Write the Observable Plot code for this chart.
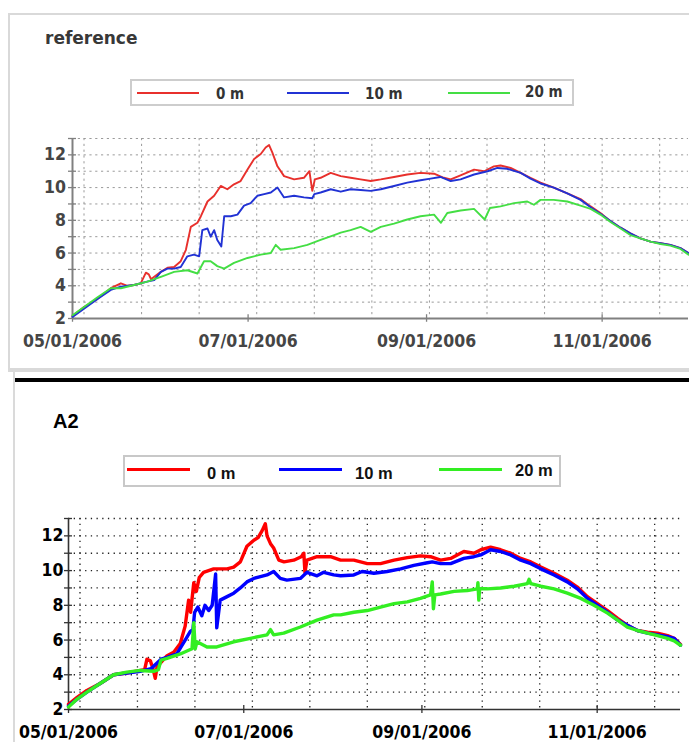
<!DOCTYPE html>
<html><head><meta charset="utf-8">
<script src="https://cdn.jsdelivr.net/npm/d3@7"></script>
<script src="https://cdn.jsdelivr.net/npm/@observablehq/plot@0.6"></script>
<style>
html,body{margin:0;padding:0;background:#fff;}
#page{position:relative;width:689px;height:742px;overflow:hidden;background:#fff;}
.abs{position:absolute;}
</style></head><body>
<div id="page"></div>
<script>
// ---------- data (days since 2006-05-01, temperature) ----------
const seriesNames = ["0 m", "10 m", "20 m"];
const yLabelValues = [2, 4, 6, 8, 10, 12];
const yTickValues = [2, 3, 4, 5, 6, 7, 8, 9, 10, 11, 12, 13];
const yGridValues = [3, 4, 5, 6, 7, 8, 9, 10, 11, 12, 13];
const xTickDates = ["2006-05-01", "2006-07-01", "2006-09-01", "2006-11-01"];
const gridDates = ["2006-05-05","2006-05-25","2006-06-14","2006-07-04","2006-07-24","2006-08-13","2006-09-02","2006-09-22","2006-10-12","2006-11-01","2006-11-21"];

// top panel: "reference"
const ref0m = [[0,2.15],[4,2.7],[8.7,3.2],[13.3,3.85],[16.8,4.15],[19.1,4.0],[21.4,4.05],[23.7,4.15],[25.5,4.8],[26.5,4.7],[27.3,4.4],[28.4,4.55],[30.7,4.85],[33,5.1],[35.3,5.15],[37.6,5.5],[39.4,6.2],[41.1,7.6],[43.4,7.85],[44.6,8.25],[46.9,9.15],[49.2,9.5],[51.5,10.1],[53.8,9.9],[56.1,10.2],[58.4,10.4],[60.8,11.1],[63.1,11.75],[65.4,12.05],[67.1,12.45],[68.3,12.6],[69.4,12.15],[71.2,11.3],[73.5,10.7],[77,10.5],[80.4,10.6],[82.3,11.0],[83.3,9.8],[84.2,10.5],[86.2,10.6],[89.7,10.9],[93.2,10.7],[96.6,10.6],[100.1,10.5],[103.6,10.4],[107.1,10.5],[111.7,10.65],[116.3,10.8],[120.9,10.9],[125.6,10.85],[129,10.6],[131.4,10.5],[134.8,10.75],[139.5,11.1],[143,11.0],[146.4,11.3],[148.7,11.35],[152.2,11.2],[155.7,10.9],[159.1,10.6],[162.6,10.3],[167.2,10.0],[171.9,9.65],[176.5,9.3],[180,8.85],[183.4,8.45],[186.9,7.95],[190.4,7.55],[193.8,7.2],[197.3,6.9],[200.8,6.7],[204.3,6.6],[207.7,6.5],[211.2,6.3],[214,6.0]];
const ref10m = [[0,2.1],[4,2.6],[8.7,3.2],[13.3,3.75],[16.8,3.95],[21.4,4.05],[25.9,4.25],[28.4,4.35],[30.7,4.85],[33,5.05],[35.3,5.05],[37.6,5.15],[39.9,5.8],[42.2,5.9],[44,5.8],[45.1,7.4],[46.9,7.5],[48,7.0],[49.2,7.4],[50.3,6.8],[51.7,6.4],[52.7,8.25],[55,8.25],[57.3,8.35],[59.6,8.9],[61.9,9.05],[64.2,9.5],[66.6,9.6],[68.9,9.7],[71.2,10.0],[73.5,9.4],[77,9.5],[80.4,9.4],[83.3,9.35],[84,9.6],[86.2,9.7],[89.7,9.9],[93.2,9.75],[96.6,9.9],[100.1,9.85],[103.6,9.8],[107.1,9.9],[111.7,10.1],[116.3,10.3],[120.9,10.45],[124.4,10.55],[127.8,10.65],[131.4,10.4],[134.8,10.5],[139.5,10.8],[144.2,11.0],[147.6,11.2],[151,11.15],[155.7,10.9],[159.1,10.55],[162.6,10.25],[167.2,10.0],[171.9,9.65],[176.5,9.25],[180,8.8],[183.4,8.4],[186.9,7.95],[190.4,7.55],[193.8,7.2],[197.3,6.9],[200.8,6.7],[204.3,6.6],[207.7,6.5],[211.2,6.3],[214,6.0]];
const ref20m = [[0,2.2],[4,2.7],[8.7,3.3],[13.3,3.85],[16.8,3.85],[21.4,4.05],[26,4.25],[30.7,4.55],[35.3,4.85],[39.9,4.95],[43.4,4.75],[45.7,5.5],[48,5.5],[50.3,5.2],[52.7,5.05],[56.1,5.4],[60.8,5.7],[65.4,5.9],[68.9,6.0],[70.6,6.5],[72.3,6.2],[77,6.3],[81.6,6.5],[86.2,6.8],[90.9,7.1],[93.2,7.25],[96.6,7.4],[100.1,7.6],[103.6,7.3],[107.1,7.6],[111.7,7.8],[116.3,8.05],[120.9,8.25],[125.6,8.35],[128,7.85],[130.2,8.45],[134.8,8.6],[139.5,8.7],[143.2,8.05],[145,8.75],[148.7,8.85],[153.4,9.05],[158,9.15],[160.3,8.95],[162.6,9.25],[167.2,9.25],[171.9,9.15],[176.5,8.9],[180,8.7],[183.4,8.35],[186.9,7.9],[190.4,7.5],[193.8,7.1],[197.3,6.9],[200.8,6.7],[204.3,6.55],[207.7,6.45],[211.2,6.25],[214,5.9]];

// bottom panel: "A2"
const a2_0m = [[0,2.3],[3,2.7],[6.4,3.1],[11,3.5],[15.7,4.0],[20.3,4.1],[25,4.25],[26.5,4.3],[27.3,4.9],[28.5,4.8],[29.5,4.3],[30.2,3.8],[30.8,4.45],[34.3,5.1],[36.6,5.3],[38.9,5.8],[40.6,6.8],[41.8,8.3],[42.5,7.6],[43.6,9.3],[44.5,8.8],[45.5,9.6],[47,9.9],[50.5,10.1],[55.2,10.1],[57.5,10.2],[59.8,10.5],[62.1,11.4],[64.5,11.75],[66,11.9],[67.4,12.3],[68.5,12.7],[69.1,12.0],[70.3,11.55],[71.4,11.3],[73.2,10.6],[75,10.5],[78.4,10.6],[81,10.8],[81.9,11.0],[82.3,9.9],[83,10.6],[86.5,10.8],[91.2,10.8],[94.7,10.6],[99.3,10.6],[104,10.4],[108.6,10.4],[113.3,10.6],[117.9,10.75],[122.5,10.85],[126,10.8],[129.5,10.6],[133,10.7],[137.6,11.1],[141.1,11.0],[143.5,11.2],[146.9,11.35],[150.4,11.2],[153.9,11.0],[157.4,10.7],[160.9,10.5],[164.4,10.2],[169,9.85],[173.6,9.45],[177.1,9.05],[180.6,8.5],[184.1,8.1],[187.6,7.7],[191.1,7.25],[194.5,6.85],[198,6.55],[201.5,6.45],[205,6.4],[208.5,6.25],[210.8,6.1],[213,5.75]];
const a2_10m = [[0,2.2],[3,2.6],[6.4,3.0],[11,3.5],[15.7,4.0],[20.3,4.1],[25,4.2],[28.7,4.35],[32.2,4.9],[34.3,5.0],[37.7,5.2],[40.6,6.0],[42.4,6.5],[43.3,6.6],[43.9,7.6],[45,7.9],[46.4,7.4],[47.5,8.0],[48.8,7.7],[50,8.0],[51.2,9.8],[51.6,6.7],[52.8,8.3],[55.2,8.5],[57.5,8.7],[59.8,9.0],[62.1,9.35],[64.5,9.55],[66.8,9.65],[69.1,9.75],[71.4,9.95],[73.7,9.55],[76,9.45],[80.7,9.55],[83,9.9],[86.5,9.7],[88.8,9.9],[92.3,9.75],[94.7,9.7],[99.3,9.75],[102.2,9.95],[106.3,9.85],[110.9,9.95],[115.6,10.1],[120.2,10.3],[124.9,10.45],[126.6,10.5],[129.5,10.4],[133,10.4],[137.6,10.7],[141.1,10.8],[143.5,10.9],[146.9,11.2],[150.4,11.1],[153.9,10.9],[157.4,10.6],[160.9,10.4],[164.4,10.1],[169,9.75],[173.6,9.35],[177.1,8.95],[180.6,8.4],[184.1,8.0],[187.6,7.6],[191.1,7.15],[194.5,6.85],[198,6.55],[201.5,6.4],[205,6.3],[208.5,6.2],[210.8,6.1],[213,5.7]];
const a2_20m = [[0,2.15],[3,2.6],[6.4,3.0],[11,3.5],[15.7,4.0],[20.3,4.15],[25,4.25],[29.6,4.2],[31.3,4.3],[32.2,4.85],[34.3,4.95],[38.9,5.2],[43,5.5],[43.6,7.0],[44.1,5.5],[44.7,5.9],[48.2,5.6],[51.6,5.6],[57.5,5.9],[63.3,6.1],[69.1,6.3],[70.3,6.6],[71.4,6.3],[74.9,6.4],[80.7,6.75],[86.5,7.15],[92.3,7.45],[94.7,7.45],[99.3,7.6],[104,7.7],[108.6,7.9],[113.3,8.1],[117.9,8.2],[122.5,8.4],[126,8.6],[126.6,9.35],[127,7.8],[127.5,8.6],[129.5,8.65],[134.2,8.8],[138.8,8.85],[142.3,8.95],[142.5,9.3],[142.8,8.3],[143.1,8.95],[145.8,8.95],[150.4,9.0],[155.1,9.1],[159.7,9.25],[160.3,9.5],[160.9,9.25],[164.4,9.1],[169,8.95],[173.6,8.7],[178.3,8.4],[182.9,8.0],[187.6,7.55],[191.1,7.15],[194.5,6.75],[198,6.55],[201.5,6.4],[205,6.25],[208.5,6.1],[210.8,5.95],[213,5.7]];

// ---------- helpers ----------
const T0 = Date.UTC(2006, 4, 1);
const dayToDate = d => new Date(T0 + d * 86400000);
const parseDate = s => new Date(s + "T00:00:00Z");
const axisFont = '"DejaVu Sans Condensed", "DejaVu Sans", sans-serif';
const page = document.getElementById("page");

function add(tag, style, text) {
  const el = document.createElement(tag);
  el.className = "abs";
  Object.assign(el.style, style);
  if (text != null) el.textContent = text;
  page.appendChild(el);
  return el;
}

function legend(o) {
  add("div", {left: o.left + "px", top: o.top + "px", width: o.width + "px", height: o.height + "px",
    boxSizing: "border-box", border: o.border, background: "#fff"});
  seriesNames.forEach((name, i) => {
    add("div", {left: o.lineX[i] + "px", top: (o.lineY - o.lineW / 2) + "px", width: o.lineLen + "px",
      height: o.lineW + "px", background: o.colors[i]});
    add("div", {left: o.textX[i] + "px", top: (o.textY[i] - 10) + "px", height: "20px", lineHeight: "20px",
      fontFamily: o.font, fontSize: o.fontSize + "px", fontWeight: "bold", color: o.textColor,
      fontStretch: o.stretch || "normal", whiteSpace: "nowrap"}, name);
  });
}

function panel(o) {
  const rows = [];
  o.series.forEach((pts, i) => pts.forEach(([d, v]) => rows.push({date: dayToDate(d), value: v, series: seriesNames[i]})));
  const x0 = dayToDate(0);
  const svg = Plot.plot({
    width: 689, height: o.height,
    marginLeft: o.ml, marginRight: o.mr, marginTop: o.mt, marginBottom: o.mb,
    style: {fontFamily: axisFont, fontSize: o.fontSize + "px", fontWeight: "bold", fontStretch: "condensed",
      color: o.textColor, background: "transparent", overflow: "visible"},
    x: {type: "utc", domain: [x0, parseDate(o.end)], label: null},
    y: {domain: [2, 13], label: null},
    color: {domain: seriesNames, range: o.colors},
    marks: [
      Plot.ruleX(gridDates.map(parseDate), {stroke: o.gridColor, strokeWidth: o.gridWidth, strokeDasharray: o.gridDash}),
      Plot.ruleY(yGridValues, {stroke: o.gridColor, strokeWidth: o.gridWidth, strokeDasharray: o.gridDash}),
      Plot.ruleY(yTickValues, {x1: dayToDate(-1.4), x2: dayToDate(1.4), stroke: o.axisColor, strokeWidth: 1.3}),
      Plot.ruleX(xTickDates.map(parseDate), {y1: 1.77, y2: 2.23, stroke: o.axisColor, strokeWidth: 1.3}),
      Plot.ruleY([2], {stroke: o.axisColor, strokeWidth: o.axisWidth}),
      Plot.ruleX([x0], {stroke: o.axisColor, strokeWidth: o.axisWidth}),
      Plot.line(rows, {x: "date", y: "value", z: "series", stroke: "series", strokeWidth: o.lineWidth, strokeLinejoin: "round"}),
      Plot.axisY(yLabelValues, {tickSize: 0, tickPadding: o.yPad, label: null}),
      Plot.axisX(xTickDates.map(parseDate), {tickSize: 0, tickPadding: o.xPad, tickFormat: d3.utcFormat("%m/%d/%Y"), label: null})
    ]
  });
  svg.style.position = "absolute";
  svg.style.left = "0px";
  svg.style.top = o.top + "px";
  page.appendChild(svg);
}

// ---------- top panel ("reference") ----------
add("div", {left: "8px", top: "13px", width: "720px", height: "359px", boxSizing: "border-box",
  border: "2px solid #d9d9d9", borderBottomWidth: "4px"});
add("div", {left: "45px", top: "30px", fontFamily: '"DejaVu Sans", sans-serif', fontWeight: "bold",
  fontSize: "17px", lineHeight: "17px", color: "#383838"}, "reference");
const refColors = ["#e8302c", "#2132d4", "#44de44"];
legend({left: 130, top: 79, width: 444, height: 27, border: "2px solid #cdcdcd",
  lineX: [137, 287, 448], lineLen: 62, lineY: 92.7, lineW: 2.2,
  textX: [216, 365, 525], textY: [94, 94, 92], font: axisFont, stretch: "condensed",
  fontSize: 15, textColor: "#333", colors: refColors});
panel({top: 120, height: 240, ml: 72, mr: 1, mt: 18, mb: 42, end: "2006-12-01",
  series: [ref0m, ref10m, ref20m], colors: refColors, lineWidth: 1.9,
  gridColor: "#9a9a9a", gridWidth: 1, gridDash: "2.2,3.6",
  axisColor: "#808080", axisWidth: 2, fontSize: 17.5, textColor: "#454545", yPad: 6.5, xPad: 16.5});

// ---------- separator ----------
add("div", {left: "13px", top: "372px", width: "2px", height: "380px", background: "#dadada"});
add("div", {left: "15px", top: "378px", width: "700px", height: "4px", background: "#000"});

// ---------- bottom panel ("A2") ----------
add("div", {left: "53px", top: "411px", fontFamily: '"Liberation Sans", Arial, sans-serif', fontWeight: "bold",
  fontSize: "20px", lineHeight: "20px", color: "#000"}, "A2");
const a2Colors = ["#ff0000", "#0000ff", "#33ee22"];
legend({left: 123, top: 455, width: 438, height: 32, border: "2px solid #c8c8c8",
  lineX: [127, 279, 439], lineLen: 62.5, lineY: 469.7, lineW: 3,
  textX: [207, 355, 515], textY: [473, 473, 470], font: '"Liberation Sans", Arial, sans-serif',
  fontSize: 16.5, textColor: "#111", colors: a2Colors});
panel({top: 500, height: 242, ml: 68, mr: 9, mt: 18, mb: 33, end: "2006-11-30",
  series: [a2_0m, a2_10m, a2_20m], colors: a2Colors, lineWidth: 3.4,
  gridColor: "#222", gridWidth: 1.3, gridDash: "1.3,4.4",
  axisColor: "#333", axisWidth: 1.6, fontSize: 17.5, textColor: "#000", yPad: 5, xPad: 16.5});
</script>
</body></html>
